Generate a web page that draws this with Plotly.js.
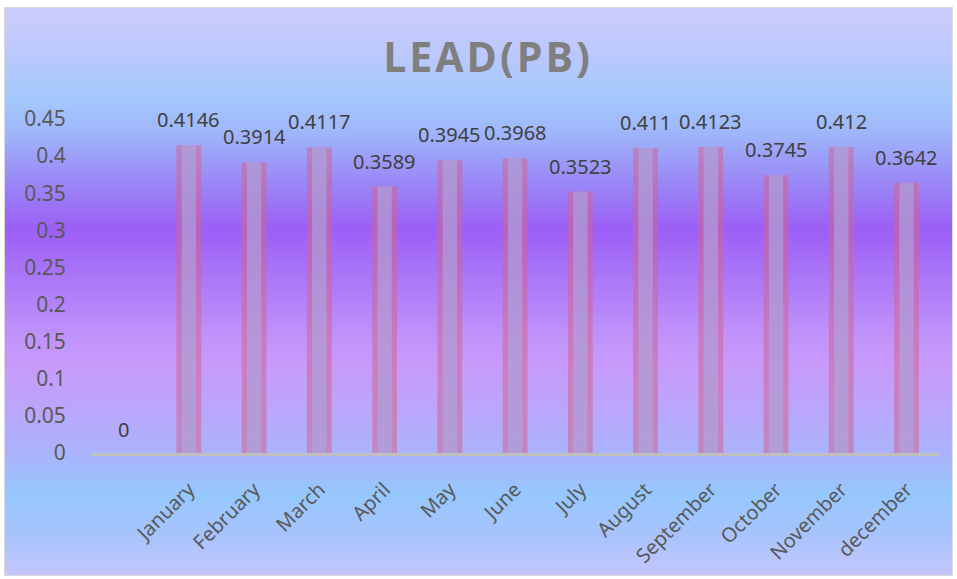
<!DOCTYPE html>
<html>
<head>
<meta charset="utf-8">
<script src="https://cdn.plot.ly/plotly-3.0.1.min.js"></script>
<style>
  html, body { margin: 0; padding: 0; background: #ffffff; }
  #wrap { position: relative; width: 957px; height: 579px; }
  #bg {
    position: absolute; left: 4px; top: 7px; width: 947px; height: 567px;
    border: 1px solid #d9d9d9;
    background: linear-gradient(to bottom,
      #cdcdfc 0%, #bcc8fc 8%, #a3c8fc 16%, #9fb6fa 22%, #9a86f6 31%,
      #9c5ff6 39%, #ab78f8 48%, #c093fa 58%, #c79afb 63%, #b8a8fb 72%,
      #a9b4fb 79%, #95c8fd 86%, #a8c3fc 93%, #c4c7fc 100%);
  }
  #chart { position: absolute; left: 0; top: 0; width: 957px; height: 579px; }
  .gtitle { letter-spacing: 3px; }
</style>
</head>
<body>
<div id="wrap">
  <div id="bg"></div>
  <div id="chart"></div>
</div>
<script>
const categories = ["", "January", "February", "March", "April", "May", "June",
  "July", "August", "September", "October", "November", "december"];
const leadValues = [0, 0.4146, 0.3914, 0.4117, 0.3589, 0.3945, 0.3968,
  0.3523, 0.411, 0.4123, 0.3745, 0.412, 0.3642];
const valueLabels = ["0", "0.4146", "0.3914", "0.4117", "0.3589", "0.3945", "0.3968",
  "0.3523", "0.411", "0.4123", "0.3745", "0.412", "0.3642"];
const yTicks = [0, 0.05, 0.1, 0.15, 0.2, 0.25, 0.3, 0.35, 0.4, 0.45];
const yTickText = ["0", "0.05", "0.1", "0.15", "0.2", "0.25", "0.3", "0.35", "0.4", "0.45"];

const font = "Noto Sans, Open Sans, sans-serif";

const outer = {
  type: "bar", x: categories, y: leadValues,
  width: 0.38,
  marker: { color: "rgba(210,100,145,0.55)", line: { width: 0 } },
  hoverinfo: "skip", showlegend: false
};
const inner = {
  type: "bar", x: categories, y: leadValues,
  width: 0.22,
  marker: { color: "rgba(165,175,235,0.55)", line: { width: 0 } },
  hoverinfo: "skip", showlegend: false
};

const labelAnnotations = categories.map((c, i) => ({
  x: i, y: leadValues[i], xref: "x", yref: "y",
  text: valueLabels[i], showarrow: false,
  xanchor: "center", yanchor: "bottom", yshift: i === 0 ? 8 : 10,
  font: { family: font, size: 20, color: "#404040" }
}));

const layout = {
  width: 957, height: 579,
  paper_bgcolor: "rgba(0,0,0,0)", plot_bgcolor: "rgba(0,0,0,0)",
  margin: { l: 91, r: 17, t: 119, b: 126 },
  barmode: "overlay",
  annotations: labelAnnotations,
  title: {
    text: "<b>LEAD(PB)</b>",
    font: { family: "Open Sans, sans-serif", size: 41, color: "#7f7f7f" },
    x: 0.51, xanchor: "center", y: 0.9, yanchor: "middle", yref: "container"
  },
  xaxis: {
    type: "category",
    showline: true, linecolor: "#bfbfbf", linewidth: 3,
    showgrid: false, zeroline: false,
    tickangle: -45, ticks: "outside", ticklen: 14, tickcolor: "rgba(0,0,0,0)",
    tickfont: { family: font, size: 20, color: "#595959" }
  },
  yaxis: {
    range: [0, 0.45],
    tickvals: yTicks, ticktext: yTickText,
    showline: false, showgrid: false, zeroline: false,
    ticks: "outside", ticklen: 20, tickcolor: "rgba(0,0,0,0)",
    tickfont: { family: font, size: 21, color: "#595959" }
  }
};

Plotly.newPlot("chart", [outer, inner], layout, { displayModeBar: false, staticPlot: true });
</script>
</body>
</html>
